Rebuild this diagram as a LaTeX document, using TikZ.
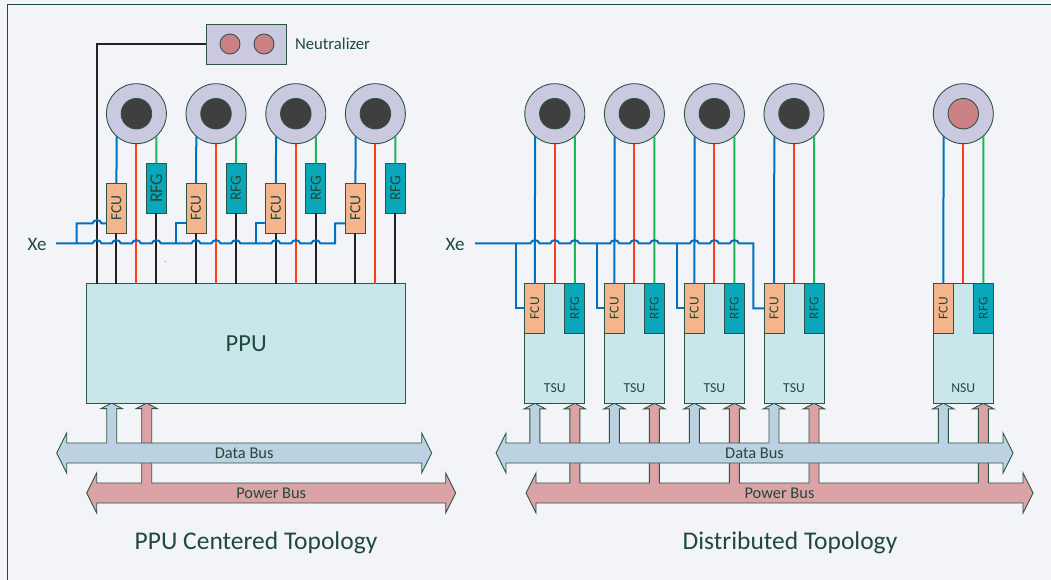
\documentclass[tikz,border=0pt]{standalone}
\usepackage{fontspec}
\usepackage{graphicx}
\setmainfont{Carlito}
\usetikzlibrary{calc,backgrounds}
\definecolor{pagebg}{HTML}{F2F4F7}
\definecolor{inkc}{HTML}{1F4A3C}
\definecolor{edgec}{HTML}{2C5548}
\definecolor{ringc}{HTML}{CBC9E0}
\definecolor{corec}{HTML}{3F3F3F}
\definecolor{pinkc}{HTML}{CC8285}
\definecolor{fcuc}{HTML}{F5B58C}
\definecolor{rfgc}{HTML}{0AA6BA}
\definecolor{unitc}{HTML}{C9E6EB}
\definecolor{datac}{HTML}{BCD2E3}
\definecolor{powerc}{HTML}{DBA3A6}
\definecolor{bluew}{HTML}{0070C0}
\definecolor{redw}{HTML}{FF3B1F}
\definecolor{greenw}{HTML}{1DB45A}
\definecolor{blackw}{HTML}{222222}
\tikzset{
  every node/.style={text=inkc,inner sep=0pt,outer sep=0pt},
  boxed/.style={draw=edgec,line width=0.9pt,rectangle},
  fcubig/.style={boxed,fill=fcuc,minimum width=20pt,minimum height=50pt,font=\fontsize{15.5}{15.5}\selectfont},
  rfgbig/.style={boxed,fill=rfgc,minimum width=20pt,minimum height=50pt,font=\fontsize{15.5}{15.5}\selectfont},
  fcusmall/.style={fcubig,font=\fontsize{13.5}{13.5}\selectfont},
  rfgsmall/.style={rfgbig,font=\fontsize{13.5}{13.5}\selectfont},
  unitbox/.style={boxed,fill=unitc},
  ring/.style={circle,draw=edgec,line width=0.9pt,fill=ringc,minimum size=60pt},
  core/.style={circle,draw=edgec,line width=0.9pt,fill=corec,minimum size=30.5pt},
  pinkcore/.style={core,fill=pinkc},
  emitter/.style={circle,draw=edgec,line width=0.9pt,fill=pinkc,minimum size=20pt},
  wireb/.style={draw=bluew,line width=2pt},
  wirer/.style={draw=redw,line width=2pt},
  wireg/.style={draw=greenw,line width=2pt},
  wirek/.style={draw=blackw,line width=2pt},
  buslabel/.style={font=\fontsize{16.4}{16.4}\selectfont,minimum height=20pt},
  title/.style={font=\fontsize{25.5}{25.5}\selectfont},
  outline/.style={draw=edgec,line width=0.9pt,line join=miter},
}
\newcommand{\vtext}[1]{\rotatebox{90}{#1}}
% bus polygon round a label node #2 (the shaft), fill colour #1
\newcommand{\busarrow}[2]{%
  \path[outline,fill=#1]
    (#2.north west) -- ([shift={(0,-10)}]#2.north west) -- ([shift={(-10,0)}]#2.west)
    -- ([shift={(0,10)}]#2.south west) -- (#2.south west) -- (#2.south east)
    -- ([shift={(0,10)}]#2.south east) -- ([shift={(10,0)}]#2.east)
    -- ([shift={(0,-10)}]#2.north east) -- (#2.north east) -- cycle;}
% upward stem from bus node #3 to point #2, fill colour #1
\newcommand{\busstem}[3]{%
  \coordinate (st) at #2;
  \fill[#1] ([shift={(-5,1)}]st |- #3.north) -- ([shift={(-5,5.5)}]st) -- ([shift={(-10.5,5.5)}]st)
    -- (st) -- ([shift={(10.5,5.5)}]st) -- ([shift={(5,5.5)}]st) -- ([shift={(5,1)}]st |- #3.north) -- cycle;
  \path[outline] ([shift={(-5,0)}]st |- #3.north) -- ([shift={(-5,5.5)}]st) -- ([shift={(-10.5,5.5)}]st)
    -- (st) -- ([shift={(10.5,5.5)}]st) -- ([shift={(5,5.5)}]st) -- ([shift={(5,0)}]st |- #3.north);}
\begin{document}
\begin{tikzpicture}[x=1pt,y=-1pt]
\useasboundingbox (0,0) rectangle (1051,580);
\begin{scope}[on background layer]
  \fill[pagebg] (0,0) rectangle (1051,580);
\end{scope}
\coordinate (frameBL) at (7,580);
\coordinate (frameTL) at (7,4.3);
\coordinate (frameTR) at (1051,4.3);
\draw[draw=inkc,line width=0.9pt] (frameBL) -- (frameTL) -- (frameTR);

% ---------- PPU centered ----------
\node[boxed,fill=ringc,minimum width=80pt,minimum height=40pt] (neut) at (246,44) {};
\node[emitter] (em1) at (230,44) {};
\node[emitter] (em2) at (264,44) {};
\node[anchor=west,font=\fontsize{16.7}{16.7}\selectfont] (neutlabel) at (295,44) {Neutralizer};
\node[unitbox,minimum width=319pt,minimum height=119.3pt,font=\fontsize{24.5}{24.5}\selectfont] (ppu) at (246.2,343.4) {PPU};
\foreach \i/\x/\rf in {1/136.4/18,2/216/15.5,3/295.8/15.5,4/375.4/15.5}{
  \node[ring] (lt\i) at (\x,113.7) {};
  \node[core] (lc\i) at (\x,113.7) {};
  \node[fcubig] (lf\i) at (\x-20,208.3) {\vtext{FCU}};
  \node[rfgbig,font=\fontsize{\rf}{\rf}\selectfont] (lr\i) at (\x+20,188.3) {\vtext{RFG}};
  \draw[wireb] (lf\i.north) -- (lt\i.-131.8);
  \draw[wireg] (lr\i.north) -- (lt\i.-48.2);
  \draw[wirer] (lt\i.south) -- (lt\i.south |- ppu.north);
  \draw[wirek] (lf\i.south) -- (lf\i.south |- ppu.north);
  \draw[wirek] (lr\i.south) -- (lr\i.south |- ppu.north);
}
\draw[wirek] (neut.west) -| ([xshift=10.3pt]ppu.north west);
\node[font=\fontsize{19}{19}\selectfont] (xel) at (37,244) {Xe};
\coordinate (xelstart) at (56,243.4);
\draw[wireb,line join=miter] (xelstart)
  foreach \h in {97,116.4,136.4,156.4,196,216,235.9,275.8,295.8,315.8}{
    -- (\h-4.5,243.4) .. controls (\h-3.5,239.2) and (\h+3.5,239.2) .. (\h+4.5,243.4)}
  -- (335,243.4) |- (lf4.west |- 0,223.3);
\draw[wireb] (76.5,243.4) -- (76.5,223.3) -- (92.5,223.3) .. controls (93.5,219.1) and (100.5,219.1) .. (101.5,223.3) -- (lf1.west |- 0,223.3);
\draw[wireb] (176,243.4) |- (lf2.west |- 0,223.3);
\draw[wireb] (256.3,243.4) |- (lf3.west |- 0,223.3);
\node[font=\fontsize{6}{6}\selectfont] (tick) at (165.5,263) {-};

\node[buslabel,minimum width=355pt] (dbl) at (244.2,453) {Data Bus};
\node[buslabel,minimum width=349pt] (pbl) at (271.2,493) {Power Bus};
\node[title] (tl) at (256,542.5) {PPU Centered Topology};
\begin{scope}[on background layer]
  \busarrow{powerc}{pbl}
  \busstem{powerc}{([xshift=60pt]ppu.south west)}{pbl}
  \busarrow{datac}{dbl}
  \busstem{datac}{([xshift=25pt]ppu.south west)}{dbl}
\end{scope}

% ---------- Distributed ----------
\foreach \i/\x/\nm/\corest in {1/554.8/TSU/core,2/634.4/TSU/core,3/714.4/TSU/core,4/794/TSU/core,5/963.3/NSU/pinkcore}{
  \node[unitbox,minimum width=60pt,minimum height=120pt] (u\i) at (\x,343.3) {};
  \node[font=\fontsize{13.7}{13.7}\selectfont] (un\i) at (\x,388.5) {\nm};
  \node[ring] (t\i) at (\x,113.7) {};
  \node[\corest] (c\i) at (\x,113.7) {};
  \node[fcusmall] (f\i) at ($(u\i.north west)+(10,25)$) {\vtext{FCU}};
  \node[rfgsmall] (r\i) at ($(u\i.north east)+(-10,25)$) {\vtext{RFG}};
  \draw[wireb] (f\i.north) -- (t\i.-131.8);
  \draw[wirer] (u\i.north) -- (t\i.south);
  \draw[wireg] (r\i.north) -- (t\i.-48.2);
}
\node[font=\fontsize{19}{19}\selectfont] (xer) at (455,244) {Xe};
\coordinate (xerstart) at (475,243.4);
\draw[wireb,line join=miter] (xerstart)
  foreach \h in {535,554.8,574.8,614.7,634.4,654.4,694.4,714.4,734.4}{
    -- (\h-4.5,243.4) .. controls (\h-3.5,239.2) and (\h+3.5,239.2) .. (\h+4.5,243.4)}
  -- (753.3,243.4) |- (f4.west);
\draw[wireb] (516,243.4) |- (f1.west);
\draw[wireb] (597,243.4) |- (f2.west);
\draw[wireb] (677,243.4) |- (f3.west);

\node[buslabel,minimum width=497pt] (dbr) at (754.5,453) {Data Bus};
\node[buslabel,minimum width=487pt] (pbr) at (779.5,493) {Power Bus};
\node[title] (tr) at (790,542.5) {Distributed Topology};
\begin{scope}[on background layer]
  \busarrow{powerc}{pbr}
  \foreach \i in {1,...,5}{\busstem{powerc}{([xshift=50pt]u\i.south west)}{pbr}}
  \busarrow{datac}{dbr}
  \foreach \i in {1,...,5}{\busstem{datac}{([xshift=10pt]u\i.south west)}{dbr}}
\end{scope}
\end{tikzpicture}
\end{document}
